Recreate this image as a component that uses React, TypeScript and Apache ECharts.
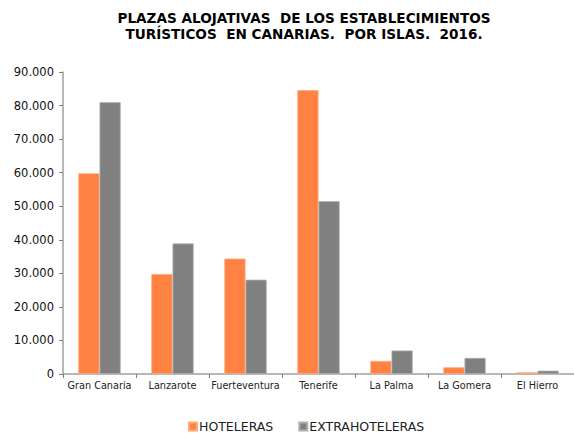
import React, { useEffect, useRef } from "react";
import * as echarts from "echarts";

const categories = ["Gran Canaria", "Lanzarote", "Fuerteventura", "Tenerife", "La Palma", "La Gomera", "El Hierro"];
const hoteleras = [59800, 29800, 34400, 84600, 3900, 2000, 500];
const extrahoteleras = [81000, 38900, 28100, 51500, 7000, 4800, 1000];
const seriesNames = ["HOTELERAS", "EXTRAHOTELERAS"];
const titleText = "PLAZAS ALOJATIVAS  DE LOS ESTABLECIMIENTOS\nTURÍSTICOS  EN CANARIAS.  POR ISLAS.  2016.";

const fmt = (v: number) => (v === 0 ? "0" : v.toLocaleString("de-DE"));

export default function App() {
  const ref = useRef<HTMLDivElement>(null);
  useEffect(() => {
    if (!ref.current) return;
    const chart = echarts.init(ref.current, null, { renderer: "svg" });
    chart.setOption({
      animation: false,
      backgroundColor: "#ffffff",
      title: {
        text: titleText,
        left: 304,
        top: 10,
        padding: 0,
        textAlign: "center",
        textStyle: {
          fontFamily: "DejaVu Sans",
          fontWeight: "bold",
          fontSize: 13.6,
          lineHeight: 16,
          color: "#000",
        },
      },
      legend: {
        data: seriesNames,
        left: 188,
        top: 420,
        padding: 0,
        itemWidth: 8,
        itemHeight: 8,
        itemGap: 25,
        icon: "rect",
        textStyle: {
          fontFamily: "DejaVu Sans",
          fontSize: 12.5,
          color: "#222",
          padding: [0, 0, 0, -3],
        },
      },
      grid: { left: 63, width: 513, top: 72, bottom: 59, containLabel: false },
      xAxis: {
        type: "category",
        data: categories,
        axisLine: { lineStyle: { color: "#a0a0a0", width: 1.5 } },
        axisTick: { show: true, length: 4, lineStyle: { color: "#808080" } },
        axisLabel: {
          interval: 0,
          fontFamily: "DejaVu Sans",
          fontSize: 9.7,
          color: "#222",
          margin: 6,
        },
      },
      yAxis: {
        type: "value",
        min: 0,
        max: 90000,
        interval: 10000,
        splitLine: { show: false },
        axisLine: { show: true, lineStyle: { color: "#a0a0a0", width: 1.5 } },
        axisTick: { show: true, length: 4, lineStyle: { color: "#808080" } },
        axisLabel: {
          fontFamily: "DejaVu Sans",
          fontSize: 11.5,
          color: "#111",
          margin: 9,
          formatter: fmt,
        },
      },
      series: [
        {
          name: seriesNames[0],
          type: "bar",
          data: hoteleras,
          barGap: "0%",
          barCategoryGap: "42%",
          itemStyle: { color: "#ff8243", borderColor: "#ffa97c", borderWidth: 0.8 },
        },
        {
          name: seriesNames[1],
          type: "bar",
          data: extrahoteleras,
          barGap: "0%",
          barCategoryGap: "42%",
          itemStyle: { color: "#808080", borderColor: "#b0b0b0", borderWidth: 0.8 },
        },
      ],
    });
    return () => chart.dispose();
  }, []);
  return (
    <div
      ref={ref}
      style={{ position: "fixed", left: 0, top: 0, width: 574, height: 433, background: "#fff" }}
    />
  );
}
